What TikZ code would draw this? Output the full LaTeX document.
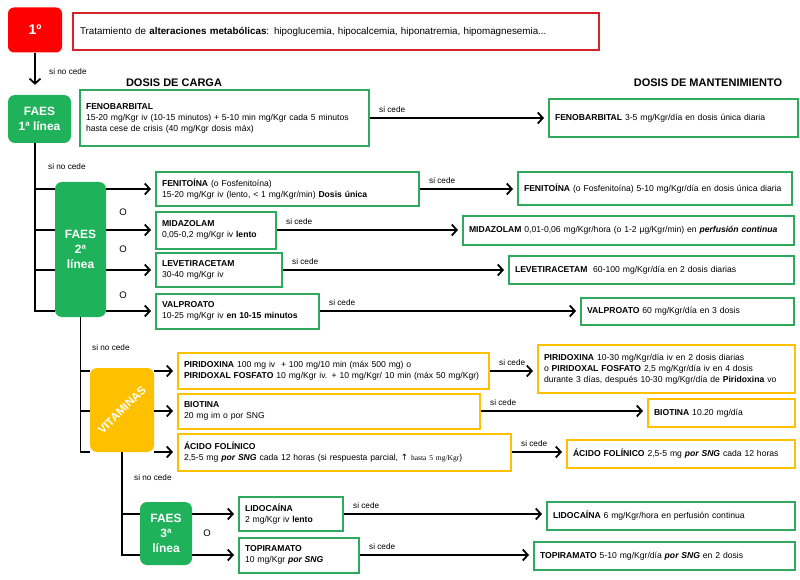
\documentclass[tikz,border=0pt]{standalone}
\usepackage{fontspec}
\setmainfont{Liberation Sans}
\newfontfamily\arrowfont{DejaVu Sans}
\newfontfamily\notefont{Liberation Serif}
\usetikzlibrary{positioning,
                arrows.meta}
\definecolor{faesgreen}{HTML}{1FB25A}
\definecolor{boxgreen}{HTML}{2EA95E}
\definecolor{vityellow}{HTML}{FFC000}
\definecolor{alertred}{HTML}{FF0000}
\definecolor{alertborder}{HTML}{D42428}

\begin{document}
\begin{tikzpicture}[x=1pt,y=-1pt]

\tikzset{
dosebox/.style={
draw=boxgreen,
line width=2pt,
fill=white,
anchor=west,
align=left,
inner xsep=6pt,
inner ysep=2pt,
font=\fontsize{8.6}{11}\selectfont
},
vitbox/.style={
dosebox,
draw=vityellow
},
lineunit/.style={
fill=faesgreen,
rounded corners=7pt,
text=white,
align=center,
font=\bfseries\fontsize{12}{15}\selectfont
},
flow/.style={
line width=1.8pt
},
flowarrow/.style={
flow,
-{Straight Barb[length=5pt,width=11pt]},
shorten >=4pt
},
cede/.style={
font=\fontsize{8.2}{9}\selectfont,
inner sep=1pt
},
orlabel/.style={
font=\fontsize{9.5}{10}\selectfont
},
header/.style={
font=\bfseries\fontsize{11}{12}\selectfont
}
}

\useasboundingbox (0,0) rectangle (800,580);

%--------------------------------------------------
% FIRST STEP
%--------------------------------------------------

\node[fill=alertred, rounded corners=6pt, minimum width=54pt, minimum height=45pt,
      text=white, font=\bfseries\fontsize{14}{15}\selectfont] (one) at (35,30) {1º};

\node[dosebox, draw=alertborder, text width=512pt, minimum height=37pt,
      inner xsep=7pt, font=\fontsize{9.8}{11}\selectfont] (metab) at (72,32)
{Tratamiento de \textbf{alteraciones metabólicas}: hipoglucemia, hipocalcemia, hiponatremia, hipomagnesemia...};

%--------------------------------------------------
% HEADERS
%--------------------------------------------------

\node[header] (hcarga) at (174,83) {DOSIS DE CARGA};
\node[header] (hmant) at (708,83) {DOSIS DE MANTENIMIENTO};

%--------------------------------------------------
% FAES 1a LINEA
%--------------------------------------------------

\node[lineunit, minimum width=63pt, minimum height=48pt] (faes1) at (39.5,119)
{FAES\\1ª línea};

\node[dosebox, text width=277pt, minimum height=56pt] (carga-feno) at (79,118)
{\textbf{FENOBARBITAL}\\
15-20 mg/Kgr iv (10-15 minutos) + 5-10 min mg/Kgr cada 5 minutos\\
hasta cese de crisis (40 mg/Kgr dosis máx)};

\node[dosebox, text width=237pt, minimum height=38pt] (mant-feno) at (548,118)
{\textbf{FENOBARBITAL} 3-5 mg/Kgr/día en dosis única diaria};

%--------------------------------------------------
% FAES 2a LINEA
%--------------------------------------------------

\node[lineunit, minimum width=51pt, minimum height=135pt] (faes2) at (80.5,249.5)
{FAES\\2ª\\línea};

\node[dosebox, text width=251pt, minimum height=34pt] (carga-feni) at (155,189)
{\textbf{FENITOÍNA} (o Fosfenitoína)\\
15-20 mg/Kgr iv (lento, < 1 mg/Kgr/min) \textbf{Dosis única}};

\node[dosebox, text width=262pt, minimum height=33pt] (mant-feni) at (517,189)
{\textbf{FENITOÍNA} (o Fosfenitoína) 5-10 mg/Kgr/día en dosis única diaria};

\node[dosebox, text width=108pt, minimum height=37pt] (carga-mida) at (155,230)
{\textbf{MIDAZOLAM}\\
0,05-0,2 mg/Kgr iv \textbf{lento}};

\node[dosebox, text width=319pt, minimum height=29pt] (mant-mida) at (462,230)
{\textbf{MIDAZOLAM} 0,01-0,06 mg/Kgr/hora (o 1-2 µg/Kgr/min) en \textbf{\textit{perfusión continua}}};

\node[dosebox, text width=114pt, minimum height=34pt] (carga-leve) at (155,270)
{\textbf{LEVETIRACETAM}\\
30-40 mg/Kgr iv};

\node[dosebox, text width=273pt, minimum height=28pt] (mant-leve) at (508,270)
{\textbf{LEVETIRACETAM}\ \ 60-100 mg/Kgr/día en 2 dosis diarias};

\node[dosebox, text width=151pt, minimum height=35pt] (carga-val) at (155,311)
{\textbf{VALPROATO}\\
10-25 mg/Kgr iv \textbf{en 10-15 minutos}};

\node[dosebox, text width=201pt, minimum height=27pt] (mant-val) at (580,311)
{\textbf{VALPROATO} 60 mg/Kgr/día en 3 dosis};

\node[orlabel] (o1) at (123,212) {O};
\node[orlabel] (o2) at (123,249) {O};
\node[orlabel] (o3) at (123,295) {O};

%--------------------------------------------------
% VITAMINAS
%--------------------------------------------------

\node[lineunit, fill=vityellow, minimum width=64pt, minimum height=84pt, inner sep=0pt,
      font=\bfseries\fontsize{11.5}{12}\selectfont] (vit) at (122,410)
{\rotatebox{45}{VITAMINAS}};

\node[vitbox, text width=299pt, minimum height=36pt] (carga-piri) at (177,371)
{\textbf{PIRIDOXINA} 100 mg iv\ \ + 100 mg/10 min (máx 500 mg) o\\
\textbf{PIRIDOXAL FOSFATO} 10 mg/Kgr iv. + 10 mg/Kgr/ 10 min (máx 50 mg/Kgr)};

\node[vitbox, text width=245pt, minimum height=48pt] (mant-piri) at (537,369)
{\textbf{PIRIDOXINA} 10-30 mg/Kgr/día iv en 2 dosis diarias\\
o \textbf{PIRIDOXAL FOSFATO} 2,5 mg/Kgr/día iv en 4 dosis\\
durante 3 días, después 10-30 mg/Kgr/día de \textbf{Piridoxina} vo};

\node[vitbox, text width=290pt, minimum height=35pt] (carga-bio) at (177,411)
{\textbf{BIOTINA}\\
20 mg im o por SNG};

\node[vitbox, text width=135pt, minimum height=28pt] (mant-bio) at (647,413)
{\textbf{BIOTINA} 10.20 mg/día};

\node[vitbox, text width=321pt, minimum height=37pt] (carga-acid) at (177,452)
{\textbf{ÁCIDO FOLÍNICO}\\
2,5-5 mg \textbf{\textit{por SNG}} cada 12 horas (si respuesta parcial, {\arrowfont ↑} {\notefont\fontsize{7.5}{8}\selectfont hasta 5 mg/Kgr})};

\node[vitbox, text width=216pt, minimum height=28pt] (mant-acid) at (566,454)
{\textbf{ÁCIDO FOLÍNICO} 2,5-5 mg \textbf{\textit{por SNG}} cada 12 horas};

%--------------------------------------------------
% FAES 3a LINEA
%--------------------------------------------------

\node[lineunit, minimum width=52pt, minimum height=63pt] (faes3) at (166,533.5)
{FAES\\3ª\\línea};

\node[dosebox, text width=92pt, minimum height=34pt] (carga-lido) at (238,514)
{\textbf{LIDOCAÍNA}\\
2 mg/Kgr iv \textbf{lento}};

\node[dosebox, text width=236pt, minimum height=28pt] (mant-lido) at (546,516)
{\textbf{LIDOCAÍNA} 6 mg/Kgr/hora en perfusión continua};

\node[dosebox, text width=108pt, minimum height=35pt] (carga-topi) at (238,555)
{\textbf{TOPIRAMATO}\\
10 mg/Kgr \textbf{\textit{por SNG}}};

\node[dosebox, text width=249pt, minimum height=28pt] (mant-topi) at (533,556)
{\textbf{TOPIRAMATO} 5-10 mg/Kgr/día \textbf{\textit{por SNG}} en 2 dosis};

\node[orlabel] (o4) at (207,533) {O};

%--------------------------------------------------
% CONNECTORS
%--------------------------------------------------

\coordinate (t1) at (faes1.south -| one.south);

\draw[flowarrow, shorten >=10pt] (one.south) -- (one.south |- faes1.north);
\node[cede, anchor=west] (nocede1) at (48,72) {si no cede};

% FAES 1 -> FAES 2
\draw[flow] (t1) |- (faes2.west |- carga-val.west);
\foreach \drug in {feni,mida,leve}
  \draw[flow] (t1 |- carga-\drug.west) -- (faes2.west |- carga-\drug.west);
\foreach \drug in {feni,mida,leve,val}
  \draw[flowarrow] (faes2.east |- carga-\drug.west) -- (carga-\drug.west);
\node[cede, anchor=west] (nocede2) at (47,167) {si no cede};

% FAES 2 -> VITAMINAS
\draw[flow] (faes2.south) |- (vit.west |- carga-acid.west);
\foreach \drug in {piri,bio}
  \draw[flow] (faes2.south |- carga-\drug.west) -- (vit.west |- carga-\drug.west);
\foreach \drug in {piri,bio,acid}
  \draw[flowarrow] (vit.east |- carga-\drug.west) -- (carga-\drug.west);
\node[cede, anchor=west] (nocede3) at (91,348) {si no cede};

% VITAMINAS -> FAES 3
\draw[flow] (vit.south) |- (faes3.west |- carga-topi.west);
\draw[flow] (vit.south |- carga-lido.west) -- (faes3.west |- carga-lido.west);
\foreach \drug in {lido,topi}
  \draw[flowarrow] (faes3.east |- carga-\drug.west) -- (carga-\drug.west);
\node[cede, anchor=west] (nocede4) at (133,478) {si no cede};

% carga -> mantenimiento
\foreach \drug in {feno,feni,mida,leve,val,piri,bio,acid,lido,topi}{
  \draw[flowarrow] (carga-\drug.east) -- (carga-\drug.east -| mant-\drug.west);
  \node[cede, above right=4pt and 8pt of carga-\drug.east] (cede-\drug) {si cede};
}

\end{tikzpicture}
\end{document}
